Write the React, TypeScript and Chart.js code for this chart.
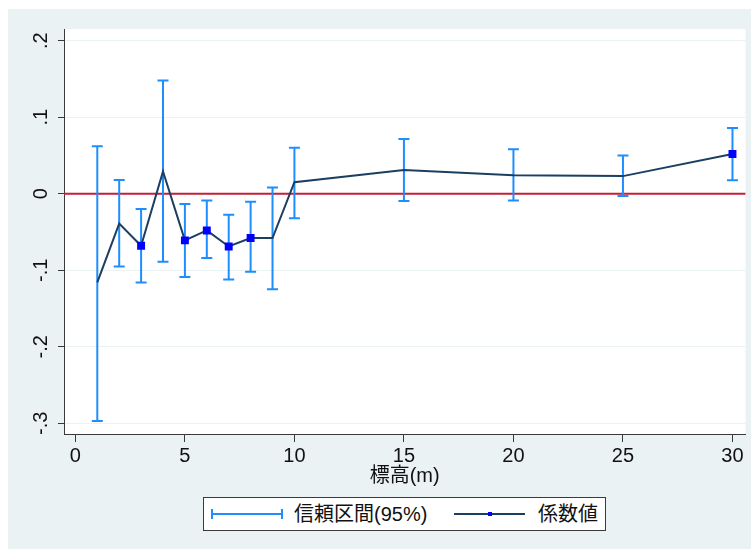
import React, { useEffect, useRef } from 'react';
import { Chart, registerables } from 'chart.js';

Chart.register(...registerables);

// ---- data ----
const xValues = [1, 2, 3, 4, 5, 6, 7, 8, 9, 10, 15, 20, 25, 30];
const coefficients = [-0.116, -0.039, -0.068, 0.029, -0.061, -0.048, -0.069, -0.058, -0.058, 0.015, 0.031, 0.024, 0.023, 0.052];
const ciLower = [-0.297, -0.095, -0.116, -0.089, -0.109, -0.084, -0.112, -0.102, -0.125, -0.032, -0.0095, -0.009, -0.003, 0.0175];
const ciUpper = [0.062, 0.018, -0.020, 0.148, -0.0135, -0.009, -0.0275, -0.0105, 0.008, 0.060, 0.0715, 0.058, 0.050, 0.086];
const xTickValues = [0, 5, 10, 15, 20, 25, 30];
const xTickLabels = ['0', '5', '10', '15', '20', '25', '30'];
const yTickValues = [-0.3, -0.2, -0.1, 0, 0.1, 0.2];
const yTickLabels = ['-.3', '-.2', '-.1', '0', '.1', '.2'];
const xAxisTitle = '標高(m)';
const legendCI = '信頼区間(95%)';
const legendCoef = '係数値';

const FONT = '"Liberation Sans", Arial, "Noto Sans CJK JP", sans-serif';
const CI_COLOR = '#1E8EFF';
const LINE_COLOR = '#1B3F62';
const MARK_COLOR = '#0000FF';
const ZERO_COLOR = '#C41E3A';
const AXIS_COLOR = '#3a3a3a';
const BG = '#EAF2F3';

const plotBg = {
  id: 'plotBg',
  beforeDraw(chart: any) {
    const { ctx, chartArea: a } = chart;
    ctx.save();
    ctx.fillStyle = '#ffffff';
    ctx.fillRect(a.left, a.top, a.right - a.left, a.bottom - a.top);
    ctx.restore();
  },
};

const ciPlugin = {
  id: 'ciPlugin',
  beforeDatasetsDraw(chart: any) {
    const { ctx, chartArea: a, scales } = chart;
    const x = scales.x;
    const y = scales.y;
    ctx.save();
    const y0 = y.getPixelForValue(0);
    ctx.strokeStyle = ZERO_COLOR;
    ctx.lineWidth = 2;
    ctx.beginPath();
    ctx.moveTo(a.left, y0);
    ctx.lineTo(a.right, y0);
    ctx.stroke();

    ctx.strokeStyle = CI_COLOR;
    ctx.lineWidth = 2;
    const cap = 5.5;
    xValues.forEach((xv, i) => {
      const px = x.getPixelForValue(xv);
      const pl = y.getPixelForValue(ciLower[i]);
      const pu = y.getPixelForValue(ciUpper[i]);
      ctx.beginPath();
      ctx.moveTo(px, pl);
      ctx.lineTo(px, pu);
      ctx.moveTo(px - cap, pl);
      ctx.lineTo(px + cap, pl);
      ctx.moveTo(px - cap, pu);
      ctx.lineTo(px + cap, pu);
      ctx.stroke();
    });
    ctx.restore();
  },
};

export default function App() {
  const canvasRef = useRef<HTMLCanvasElement | null>(null);

  useEffect(() => {
    if (!canvasRef.current) return;
    const significant = xValues.map((_, i) => ciUpper[i] < 0 || ciLower[i] > 0);
    const chart = new Chart(canvasRef.current, {
      type: 'line',
      data: {
        datasets: [
          {
            label: legendCoef,
            data: xValues.map((xv, i) => ({ x: xv, y: coefficients[i] })),
            borderColor: LINE_COLOR,
            borderWidth: 2,
            pointStyle: 'rect',
            pointRadius: significant.map((s) => (s ? 5.6 : 0)),
            pointHoverRadius: significant.map((s) => (s ? 5.6 : 0)),
            pointBackgroundColor: MARK_COLOR,
            pointBorderWidth: 0,
            tension: 0,
            fill: false,
          },
        ],
      },
      options: {
        responsive: false,
        animation: false,
        events: [],
        layout: { padding: { left: 0, top: 20, right: 5, bottom: 55 } },
        plugins: { legend: { display: false }, tooltip: { enabled: false }, title: { display: false } },
        scales: {
          x: {
            type: 'linear',
            min: -0.52,
            max: 30.59,
            afterBuildTicks: (scale: any) => {
              scale.ticks = xTickValues.map((v) => ({ value: v }));
            },
            afterFit: (scale: any) => {
              scale.height = 60;
            },
            grid: { drawOnChartArea: false, drawTicks: true, tickLength: 8, tickColor: AXIS_COLOR, tickWidth: 1 },
            border: { display: true, color: AXIS_COLOR, width: 1 },
            ticks: {
              padding: 2,
              maxRotation: 0,
              minRotation: 0,
              autoSkip: false,
              color: '#111',
              font: { family: FONT, size: 20 },
              callback: (value: any) => {
                const i = xTickValues.findIndex((v) => Math.abs(v - value) < 1e-9);
                return i >= 0 ? xTickLabels[i] : '';
              },
            },
            title: {
              display: true,
              text: xAxisTitle,
              color: '#111',
              font: { family: FONT, size: 20 },
              padding: { top: 0, bottom: 6 },
            },
          },
          y: {
            type: 'linear',
            min: -0.3141,
            max: 0.2153,
            afterBuildTicks: (scale: any) => {
              scale.ticks = yTickValues.map((v) => ({ value: v }));
            },
            afterFit: (scale: any) => {
              scale.width = 56;
            },
            grid: { drawOnChartArea: true, color: BG, lineWidth: 1, drawTicks: true, tickLength: 6, tickColor: AXIS_COLOR, tickWidth: 1 },
            border: { display: true, color: AXIS_COLOR, width: 1 },
            ticks: {
              padding: 5,
              minRotation: 90,
              maxRotation: 90,
              crossAlign: 'center',
              autoSkip: false,
              color: '#111',
              font: { family: FONT, size: 20 },
              callback: (value: any) => {
                const i = yTickValues.findIndex((v) => Math.abs(v - value) < 1e-9);
                return i >= 0 ? yTickLabels[i] : '';
              },
            },
          },
        },
      },
      plugins: [plotBg, ciPlugin],
    } as any);
    return () => chart.destroy();
  }, []);

  const textStyle: React.CSSProperties = {
    position: 'absolute',
    top: 0,
    height: 32,
    lineHeight: '32px',
    fontFamily: FONT,
    fontSize: 20,
    color: '#111',
    whiteSpace: 'nowrap',
  };

  return (
    <div style={{ position: 'fixed', left: 8, top: 9, width: 743, height: 540, background: BG }}>
      <canvas ref={canvasRef} width={743} height={540} style={{ display: 'block', width: 743, height: 540 }} />
      <div
        style={{
          position: 'absolute',
          left: 195,
          top: 488,
          width: 401,
          height: 32,
          border: `1px solid ${AXIS_COLOR}`,
          background: '#fff',
        }}
      >
        {/* CI symbol */}
        <div style={{ position: 'absolute', left: 7, top: 15, width: 72, height: 2, background: CI_COLOR }} />
        <div style={{ position: 'absolute', left: 7, top: 11, width: 2, height: 10, background: CI_COLOR }} />
        <div style={{ position: 'absolute', left: 77, top: 11, width: 2, height: 10, background: CI_COLOR }} />
        <div style={{ ...textStyle, left: 90 }}>{legendCI}</div>
        {/* coefficient symbol */}
        <div style={{ position: 'absolute', left: 250, top: 15, width: 71, height: 2, background: LINE_COLOR }} />
        <div style={{ position: 'absolute', left: 284, top: 14, width: 4, height: 4, background: MARK_COLOR }} />
        <div style={{ ...textStyle, left: 334 }}>{legendCoef}</div>
      </div>
    </div>
  );
}
